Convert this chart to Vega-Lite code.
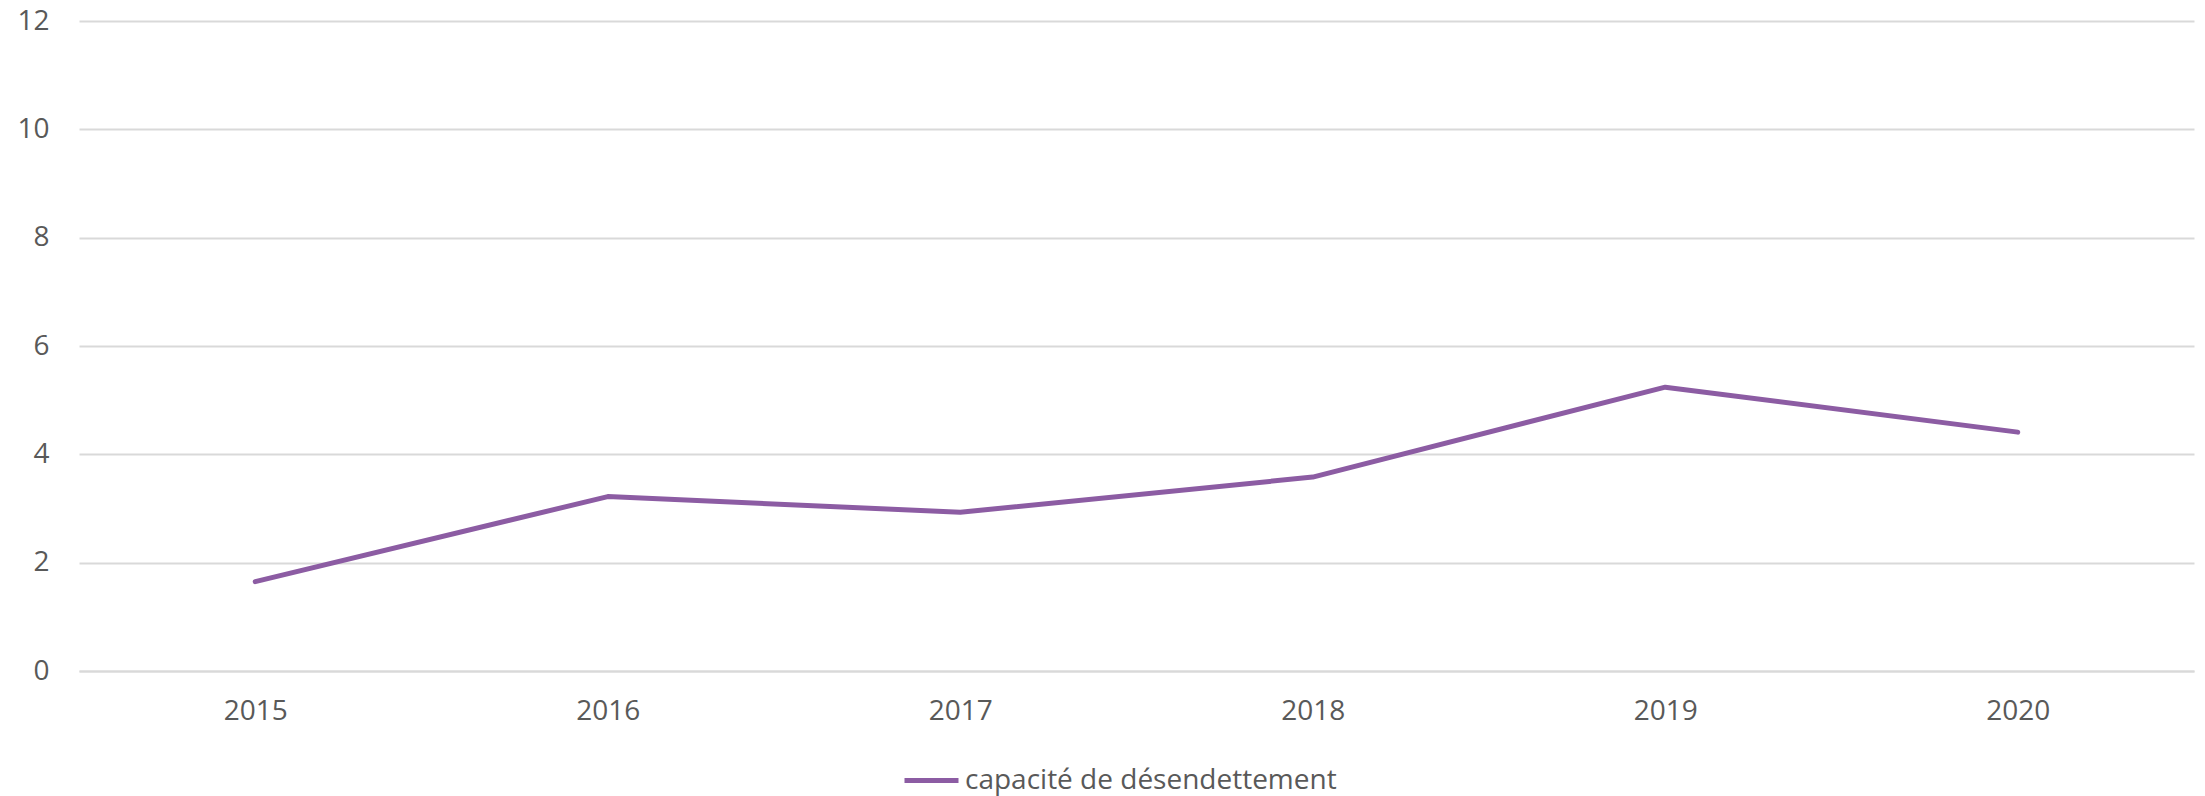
{
  "$schema": "https://vega.github.io/schema/vega-lite/v6.json",
  "width": 2115,
  "height": 650,
  "autosize": {"type": "none"},
  "padding": {"left": 79, "top": 21, "right": 11, "bottom": 125},
  "background": "white",
  "config": {
    "view": {"stroke": null},
    "font": "Open Sans",
    "axis": {"labelFont": "Open Sans", "labelColor": "#595959", "labelFontSize": 28},
    "legend": {"labelFont": "Open Sans", "labelColor": "#595959", "labelFontSize": 28}
  },
  "data": {
    "values": [
      {"annee": "2015", "serie": "capacité de désendettement", "valeur": 1.65},
      {"annee": "2016", "serie": "capacité de désendettement", "valeur": 3.22},
      {"annee": "2017", "serie": "capacité de désendettement", "valeur": 2.93},
      {"annee": "2018", "serie": "capacité de désendettement", "valeur": 3.58},
      {"annee": "2019", "serie": "capacité de désendettement", "valeur": 5.24},
      {"annee": "2020", "serie": "capacité de désendettement", "valeur": 4.41}
    ]
  },
  "mark": {"type": "line", "strokeWidth": 5, "strokeCap": "round", "strokeJoin": "round"},
  "encoding": {
    "x": {
      "field": "annee",
      "type": "ordinal",
      "scale": {"type": "point", "padding": 0.5},
      "axis": {"title": null, "labelAngle": 0, "ticks": false, "domain": true, "domainColor": "#d9d9d9", "domainWidth": 2, "labelPadding": 26, "grid": false}
    },
    "y": {
      "field": "valeur",
      "type": "quantitative",
      "scale": {"domain": [0, 12]},
      "axis": {"title": null, "values": [0, 2, 4, 6, 8, 10, 12], "ticks": false, "domain": false, "gridColor": "#d9d9d9", "gridWidth": 2, "labelPadding": 30}
    },
    "color": {
      "field": "serie",
      "type": "nominal",
      "scale": {"range": ["#8c5ca3"]},
      "legend": {"title": null, "orient": "none", "legendX": 823, "legendY": 730, "symbolType": "stroke", "symbolSize": 2916, "symbolStrokeWidth": 5, "labelOffset": 4, "labelLimit": 0}
    }
  }
}
